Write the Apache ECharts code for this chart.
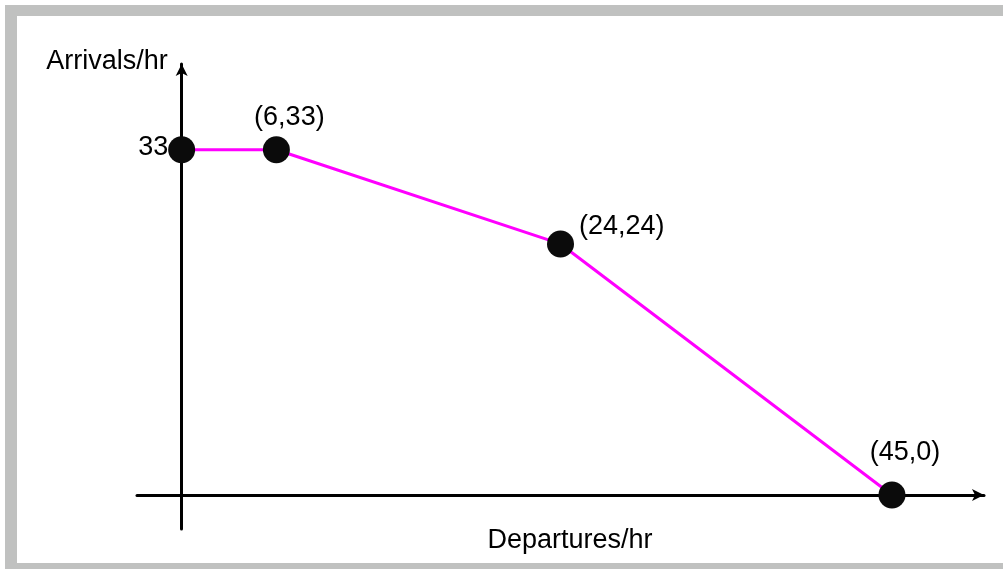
<!DOCTYPE html>
<html>
<head>
<meta charset="utf-8">
<script src="https://cdn.jsdelivr.net/npm/echarts@6/dist/echarts.min.js"></script>
<style>
  html, body { margin: 0; padding: 0; width: 1003px; height: 569px; overflow: hidden; background: #ffffff; }
  #frame { position: absolute; left: 5px; top: 5px; right: 0; bottom: 0; background: #c0c1c0; }
  #inner { position: absolute; left: 17px; top: 16px; right: 0; bottom: 6px; background: #ffffff; }
  #chart { position: absolute; left: 0; top: 0; width: 1003px; height: 569px; }
</style>
</head>
<body>
<div id="frame"></div>
<div id="inner"></div>
<div id="chart"></div>
<script>
// Data
const departures = [0, 6, 24, 45];
const arrivals = [33, 33, 24, 0];
const pointLabels = ['33', '(6,33)', '(24,24)', '(45,0)'];
const xAxisName = 'Departures/hr';
const yAxisName = 'Arrivals/hr';

const FONT = "'Liberation Sans', Arial, Helvetica, sans-serif";
const FS = 27;

const labelStyles = [
  { position: 'left', distance: 0, offset: [0, -2] },
  { position: 'top', distance: 5, offset: [13, 0] },
  { position: 'right', distance: 5, offset: [0, -17] },
  { position: 'top', distance: 15, offset: [13, 0] }
];

const seriesData = departures.map((x, i) => ({
  value: [x, arrivals[i]],
  label: Object.assign({
    show: true,
    formatter: pointLabels[i],
    color: '#000',
    fontSize: FS,
    fontFamily: FONT
  }, labelStyles[i])
}));

const chart = echarts.init(document.getElementById('chart'), null, { renderer: 'canvas' });
chart.setOption({
  backgroundColor: 'transparent',
  animation: false,
  grid: { left: 137, right: 19, top: 64, bottom: 40, containLabel: false, outerBoundsMode: 'none' },
  xAxis: {
    type: 'value',
    min: -2.83, max: 50.83,
    name: xAxisName,
    nameLocation: 'middle',
    nameGap: -2,
    nameTextStyle: { color: '#000', fontSize: FS, fontFamily: FONT, padding: [0, 0, 0, 19] },
    axisLine: { show: true, onZero: true, symbol: ['none', 'arrow'], symbolSize: [9, 12],
      lineStyle: { color: '#000', width: 3 } },
    axisTick: { show: false },
    axisLabel: { show: false },
    splitLine: { show: false }
  },
  yAxis: {
    type: 'value',
    min: -3.25, max: 41.2,
    name: yAxisName,
    nameLocation: 'end',
    nameGap: 2,
    nameTextStyle: { color: '#000', fontSize: FS, fontFamily: FONT, align: 'right', verticalAlign: 'middle', padding: [0, 14, 0, 0] },
    axisLine: { show: true, onZero: true, symbol: ['none', 'arrow'], symbolSize: [9, 12],
      lineStyle: { color: '#000', width: 3 } },
    axisTick: { show: false },
    axisLabel: { show: false },
    splitLine: { show: false }
  },
  series: [{
    type: 'line',
    data: seriesData,
    symbol: 'circle',
    symbolSize: 27,
    z: 5,
    lineStyle: { color: '#ff00ff', width: 3 },
    itemStyle: { color: '#0b0b0b', borderWidth: 0 }
  }]
});
</script>
</body>
</html>
